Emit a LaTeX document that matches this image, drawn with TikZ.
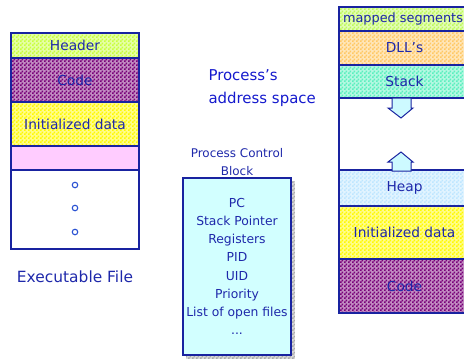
\documentclass[tikz,border=0pt]{standalone}
\usepackage{fontspec}
\setmainfont{DejaVu Sans}
\usetikzlibrary{patterns}
\pgfdeclarepatternformonly{finechk}{\pgfpointorigin}{\pgfqpoint{4bp}{4bp}}{\pgfqpoint{4bp}{4bp}}{%
  \pgfpathrectangle{\pgfpointorigin}{\pgfqpoint{2bp}{2bp}}%
  \pgfpathrectangle{\pgfqpoint{2bp}{2bp}}{\pgfqpoint{2bp}{2bp}}%
  \pgfusepath{fill}}
\definecolor{edge}{RGB}{25,35,160}
\definecolor{ink}{RGB}{30,40,170}
\definecolor{ink2}{RGB}{20,25,205}
\definecolor{hdrc}{RGB}{200,255,60}
\definecolor{codec}{RGB}{120,0,120}
\definecolor{initc}{RGB}{255,250,0}
\definecolor{pinkc}{RGB}{255,204,255}
\definecolor{mapc}{RGB}{190,250,90}
\definecolor{dllc}{RGB}{255,200,100}
\definecolor{stackc}{RGB}{90,240,190}
\definecolor{heapc}{RGB}{190,230,255}
\definecolor{pcbc}{RGB}{210,255,255}
\definecolor{arrc}{RGB}{205,250,255}
\definecolor{dotc}{RGB}{40,80,210}
\definecolor{shadc}{RGB}{170,170,170}
\tikzset{
  seg/.style={draw=edge, line width=1.2bp, inner sep=0pt, text=ink,
    font=\fontsize{13.8}{15}\selectfont},
  chk/.style={preaction={fill=#1!45}, pattern=finechk, pattern color=#1},
  lbox/.style={seg, minimum width=128bp},
  rbox/.style={seg, minimum width=131bp},
  blockarrow/.style={draw=edge, line width=1bp, fill=arrc, line join=miter},
  smalldot/.style={circle, draw=dotc, line width=1.1bp, minimum size=5.5bp, inner sep=0pt},
}
\begin{document}
\begin{tikzpicture}[x=1bp,y=-1bp]
\useasboundingbox (0,0) rectangle (464,358);
\clip (0,0) rectangle (464,358);
% executable file
\node[lbox, chk=hdrc, minimum height=25bp] (hdr) at (75,45.5) {Header};
\node[lbox, chk=codec, minimum height=44bp] (code1) at (75,80) {Code};
\node[lbox, chk=initc, minimum height=44bp] (init1) at (75,124) {Initialized data};
\node[lbox, fill=pinkc, minimum height=24bp] (pink1) at (75,158) {};
\node[lbox, minimum height=79bp] (rest1) at (75,209.5) {};
\node[smalldot] (d1) at (75,185) {};
\node[smalldot] (d2) at (75,208) {};
\node[smalldot] (d3) at (75,232) {};
\node[text=ink, font=\fontsize{15.5}{17}\selectfont] (exe) at (75,277) {Executable File};
% address space title
\node[text=ink2, font=\fontsize{15}{23}\selectfont, align=left, anchor=west] (as) at (205,88.5) {Process's\\address space};
% process address space
\node[rbox, chk=mapc, minimum height=24bp] (map) at (404.5,19) {};
\node[text=ink, inner sep=0pt, font=\fontsize{12.9}{15}\selectfont] (maplbl) at (403,19) {mapped segments};
\node[rbox, chk=dllc, minimum height=34bp] (dll) at (404.5,48) {DLL's};
\node[rbox, chk=stackc, minimum height=33bp] (stk) at (404.5,81.5) {Stack};
\node[rbox, minimum height=72bp] (gap) at (404.5,134) {};
\node[rbox, chk=heapc, minimum height=36bp] (heap) at (404.5,188) {Heap};
\node[rbox, chk=initc, minimum height=53bp] (init2) at (404.5,232.5) {Initialized data};
\node[rbox, chk=codec, minimum height=54bp] (code2) at (404.5,286) {Code};
\draw[blockarrow] (392,98) -- (411,98) -- (411,108) -- (413,108) -- (401,118) -- (388,108) -- (392,108) -- cycle;
\draw[blockarrow] (392,171) -- (411,171) -- (411,162) -- (413,162) -- (401,152) -- (388,162) -- (392,162) -- cycle;
% PCB
\node[text=ink, font=\fontsize{12}{18}\selectfont, align=center] (pcbt) at (237,162) {Process Control\\Block};
\fill[chk=shadc] (186,181) rectangle (295,359);
\node[draw=edge, line width=1.2bp, fill=pcbc, minimum width=108bp, minimum height=177bp,
  text=ink, font=\fontsize{12.4}{18.3}\selectfont, align=center] (pcb) at (237,266.5)
  {PC\\Stack Pointer\\Registers\\PID\\UID\\Priority\\List of open files\\...};
\end{tikzpicture}
\end{document}
